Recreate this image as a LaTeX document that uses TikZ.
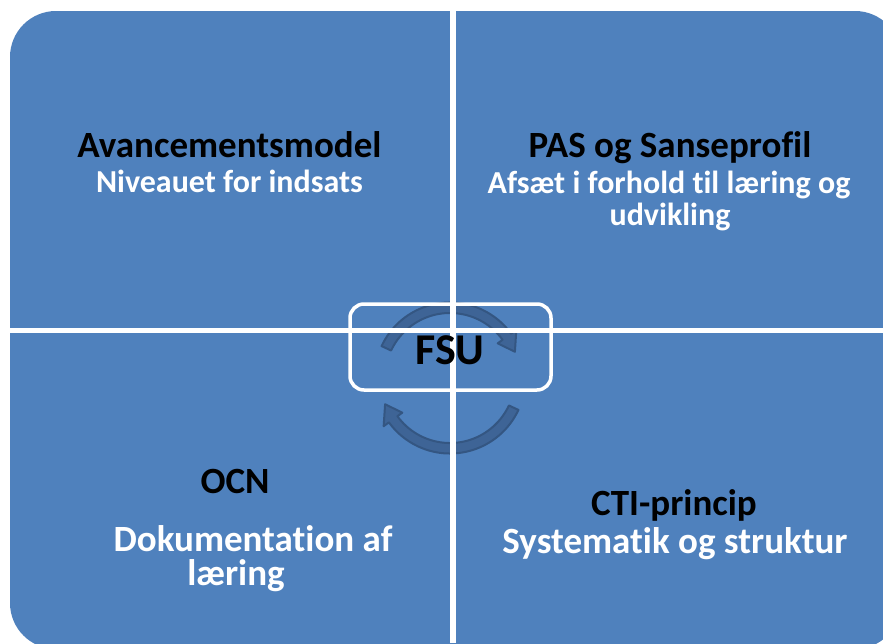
\documentclass[tikz,border=0pt]{standalone}
\usepackage{fontspec}
\setmainfont[Ligatures=NoCommon]{Carlito}
\definecolor{quadblue}{RGB}{79,129,189}
\definecolor{arrowfill}{RGB}{62,100,150}
\definecolor{arrowline}{RGB}{52,86,130}
\tikzset{
  quad/.style={fill=quadblue},
  gapbar/.style={fill=white},
  ttl/.style={anchor=base, text=black, inner sep=0pt, font=\bfseries\fontsize{37}{37}\selectfont},
  subw/.style={anchor=base, text=white, inner sep=0pt, font=\bfseries\fontsize{32}{32}\selectfont},
  subwl/.style={anchor=base, text=white, inner sep=0pt, font=\bfseries\fontsize{37}{37}\selectfont},
  cyc/.style={fill=arrowfill, draw=arrowline, line width=2pt, line join=round},
  fsuframe/.style={draw=white, line width=3.5pt, rounded corners=14pt, minimum width=201pt, minimum height=86pt, inner sep=0pt},
  fsutext/.style={anchor=base, text=black, inner sep=0pt, font=\bfseries\fontsize{44}{44}\selectfont},
}
\begin{document}
\begin{tikzpicture}[x=1pt,y=-1pt]
\useasboundingbox (0,0) rectangle (883,643);
\clip (0,0) rectangle (883,643);
\fill[white] (0,0) rectangle (883,643);
% quadrants (one rounded block split by white gaps)
\fill[quad, rounded corners=46pt] (10,11) rectangle (901,649);
% cycle arrows
\begin{scope}[shift={(450,378)}]
  \filldraw[cyc] (155:75.5pt) arc[start angle=155, end angle=36, radius=75.5pt]
    -- (36:82pt) -- (22:70pt) -- (36:59pt) -- (36:65pt)
    arc[start angle=36, end angle=155, radius=65pt] -- cycle;
  \filldraw[cyc] (-25:75.5pt) arc[start angle=-25, end angle=-144, radius=75.5pt]
    -- (-144:82pt) -- (-158:70pt) -- (-144:59pt) -- (-144:65pt)
    arc[start angle=-144, end angle=-25, radius=65pt] -- cycle;
\end{scope}
% gaps between the quadrants
\fill[gapbar] (450,0) rectangle (456,643);
\fill[gapbar] (0,328) rectangle (883,333);
% centre frame
\node[fsuframe] (frame) at (450.5,347) {};
\node[fsutext] (fsu) at (450,364) {FSU};
% texts
\node[ttl] (t1) at (229.5,157) {Avancementsmodel};
\node[subw] (s1) at (229.5,192) {Niveauet for indsats};
\node[ttl] (t2) at (670,157) {PAS og Sanseprofil};
\node[subw] (s2a) at (669,193) {Afsæt i forhold til læring og};
\node[subw] (s2b) at (670,225) {udvikling};
\node[ttl] (t3) at (235,493) {OCN};
\node[subwl] (s3a) at (253,551) {Dokumentation af};
\node[subwl] (s3b) at (236,585) {læring};
\node[ttl] (t4) at (674,515) {CTI-princip};
\node[subwl] (s4) at (675,553) {Systematik og struktur};
\end{tikzpicture}
\end{document}
